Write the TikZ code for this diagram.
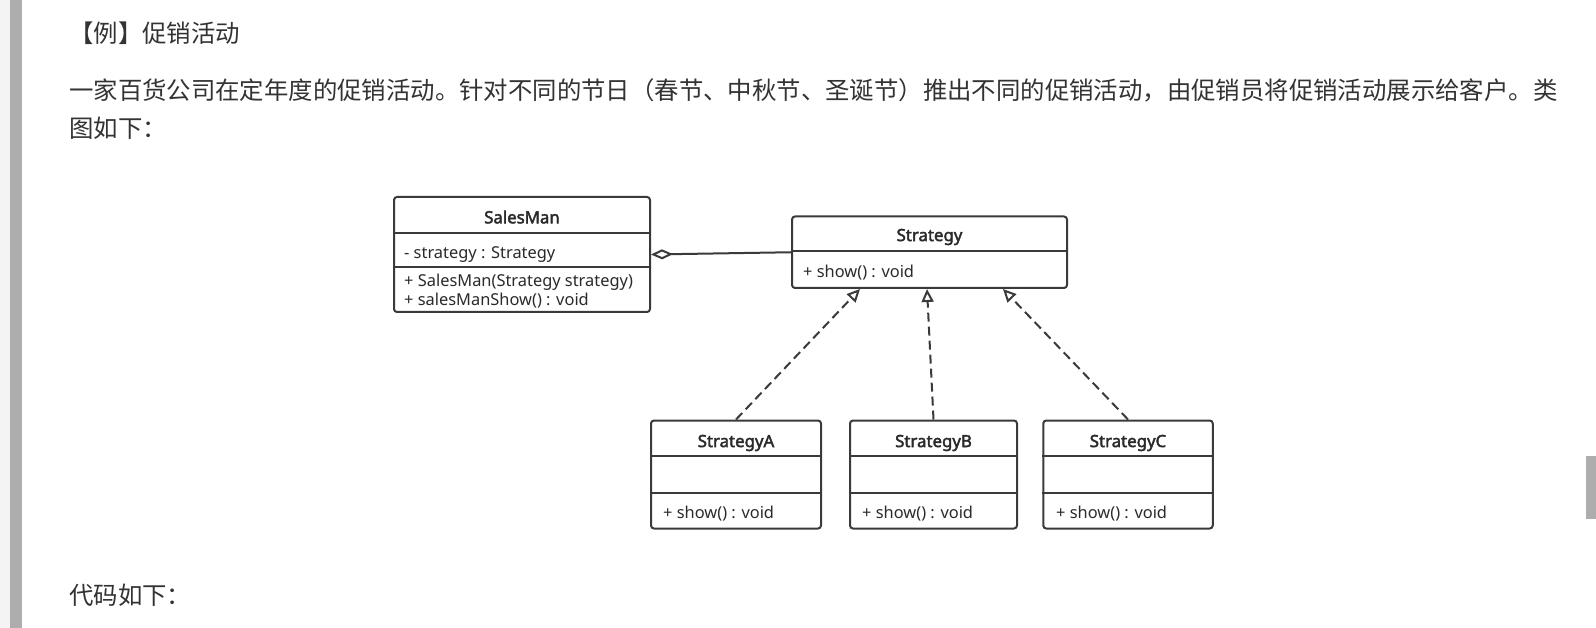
\documentclass[tikz,border=0pt]{standalone}
\usepackage{fontspec}
\setmainfont{Noto Sans}[AutoFakeBold=2.4]
\newfontfamily\cjk{Noto Sans CJK SC}
\usetikzlibrary{arrows.meta,calc}
\definecolor{txt}{HTML}{333333}
\definecolor{dtxt}{HTML}{2A2A2A}
\definecolor{ln}{HTML}{3A3A3A}
\definecolor{barc}{HTML}{ADADAD}
\definecolor{edge}{HTML}{F4F4F4}
\begin{document}
\begin{tikzpicture}[x=1pt,y=-1pt,
  box/.style={draw=ln, line width=2pt, rounded corners=3pt, inner sep=0pt, fill=white},
  sep/.style={draw=ln, line width=2pt},
  cname/.style={font=\bfseries\fontsize{16.8}{19}\selectfont, text=dtxt, inner sep=0pt},
  member/.style={font=\fontsize{16.4}{19}\selectfont, text=dtxt, inner sep=0pt, anchor=west},
  para/.style={font=\cjk\fontsize{24.4}{30}\selectfont, text=txt, inner sep=0pt, anchor=base west},
  agg/.style={draw=ln, line width=2pt, -{Diamond[open, length=22pt, width=10pt, line width=2pt]}},
  real/.style={draw=ln, line width=2pt, dash pattern=on 9pt off 5pt, -{Triangle[open, length=13pt, width=12pt, line width=2pt]}}
]
\useasboundingbox (0,0) rectangle (1596,628);
\fill[white] (0,0) rectangle (1596,628);
\fill[edge] (0,0) rectangle (10,628);
\fill[barc] (10,0) rectangle (22,628);
\fill[barc] (1586,456) rectangle (1596,519);

% text
\node[para] (title) at (69,43) {【例】促销活动};
\node[para] (line1) at (69,100) {一家百货公司在定年度的促销活动。针对不同的节日（春节、中秋节、圣诞节）推出不同的促销活动，由促销员将促销活动展示给客户。类};
\node[para] (line2) at (69,137.5) {图如下：};
\node[para] (code) at (69,604) {代码如下：};

% SalesMan
\node[box, minimum width=256pt, minimum height=115pt] (sm) at (522,254.5) {};
\draw[sep] ($(sm.north west)+(0,37)$) -- ($(sm.north east)+(0,37)$);
\draw[sep] ($(sm.north west)+(0,71)$) -- ($(sm.north east)+(0,71)$);
\node[cname] (smn) at (522,217) {SalesMan};
\node[member] (sm1) at (404,254.5) {- strategy : Strategy};
\node[member] (sm2) at (404,282) {+ SalesMan(Strategy strategy)};
\node[member] (sm3) at (404,301) {+ salesManShow() : void};

% Strategy
\node[box, minimum width=275pt, minimum height=71.5pt] (st) at (929.5,252.25) {};
\draw[sep] ($(st.north west)+(0,35.5)$) -- ($(st.north east)+(0,35.5)$);
\node[cname] (stn) at (929.5,237) {Strategy};
\node[member] (st1) at (803,273) {+ show() : void};

% StrategyA
\node[box, minimum width=170pt, minimum height=108pt] (A) at (736,474.5) {};
\draw[sep] ($(A.north west)+(0,36.5)$) -- ($(A.north east)+(0,36.5)$);
\draw[sep] ($(A.north west)+(0,73.5)$) -- ($(A.north east)+(0,73.5)$);
\node[cname] (An) at (736,443) {StrategyA};
\node[member] (A1) at (663,514) {+ show() : void};

% StrategyB
\node[box, minimum width=167pt, minimum height=108pt] (B) at (933.5,474.5) {};
\draw[sep] ($(B.north west)+(0,36.5)$) -- ($(B.north east)+(0,36.5)$);
\draw[sep] ($(B.north west)+(0,73.5)$) -- ($(B.north east)+(0,73.5)$);
\node[cname] (Bn) at (933.5,443) {StrategyB};
\node[member] (B1) at (862,514) {+ show() : void};

% StrategyC
\node[box, minimum width=169.5pt, minimum height=108pt] (C) at (1128,474.5) {};
\draw[sep] ($(C.north west)+(0,36.5)$) -- ($(C.north east)+(0,36.5)$);
\draw[sep] ($(C.north west)+(0,73.5)$) -- ($(C.north east)+(0,73.5)$);
\node[cname] (Cn) at (1128,443) {StrategyC};
\node[member] (C1) at (1056,514) {+ show() : void};

% connectors
\draw[agg] (st.west) -- (sm.east);
\draw[real] (A.north) -- ($(st.south west)+(69,0)$);
\draw[real] (B.north) -- ($(st.south west)+(136,0)$);
\draw[real] (C.north) -- ($(st.south west)+(212,0)$);
\end{tikzpicture}
\end{document}
